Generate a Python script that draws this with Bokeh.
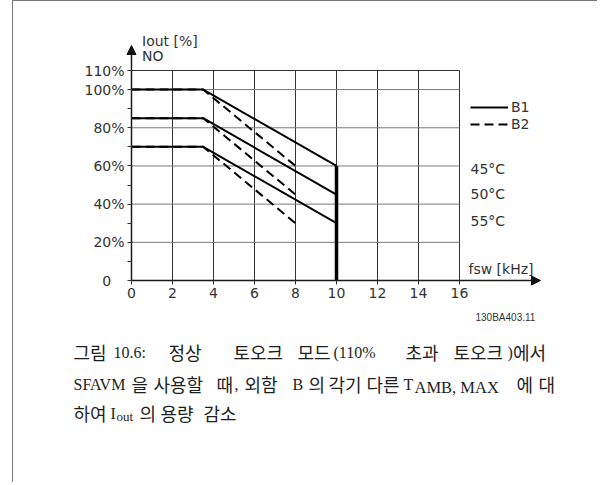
from bokeh.plotting import figure
from bokeh.models import (Range1d, FixedTicker, Label, Arrow, NormalHead,
                          Legend, LegendItem, LinearAxis, Grid)
from bokeh.embed import file_html
from bokeh.resources import INLINE

# ---------------- data ----------------
fsw_b1 = [0, 3.5, 10]          # kHz
b1_45 = [100, 100, 60]         # Iout %
b1_50 = [85, 85, 45]
b1_55 = [70, 70, 30]

fsw_b2 = [0, 3.5, 8]
b2_45 = [100, 100, 60]
b2_50 = [85, 85, 45]
b2_55 = [70, 70, 30]

series_names = ["B1", "B2"]
temp_labels = ["45°C", "50°C", "55°C"]

x_ticks = [0, 2, 4, 6, 8, 10, 12, 14, 16]
y_ticks = [0, 20, 40, 60, 80, 100, 110]
y_minor = [10, 30, 50, 70, 90]
y_tick_labels = ["0\u00a0\u00a0\u00a0", "20%", "40%", "60%", "80%", "100%", "110%"]
y_grid = [20, 40, 60, 80, 100]

x_title = "fsw [kHz]"
y_title = ["Iout [%]", "NO"]
doc_code = "130BA403.11"

# ---------------- layout (page pixels) ----------------
CANVAS_L, CANVAS_T = 13, 1           # canvas position on the page
W, H = 585, 482
FRAME_L, FRAME_B = 131.0, 280.0      # page px of data origin (0 kHz, 0 %)
X_PX = 20.5                          # px per kHz
Y_PX = 210.0 / 110.0                 # px per %

def dx(px):
    return (px - FRAME_L) / X_PX

def dy(py):
    return (FRAME_B - py) / Y_PX

SANS = "DejaVu Sans"
SERIF = "'Liberation Serif', serif"
KOR = "'Noto Sans CJK KR', 'Liberation Serif'"
TXT = "#333333"

p = figure(width=W, height=H, output_backend="svg", toolbar_location=None,
           x_axis_location=None, y_axis_location=None,
           x_range=Range1d(dx(CANVAS_L), dx(CANVAS_L + W)),
           y_range=Range1d(dy(CANVAS_T + H), dy(CANVAS_T)),
           min_border=0)
p.center = [r for r in p.center if not isinstance(r, Grid)]
p.styles = {"margin-left": "12px", "border-left": "1px solid #777",
            "border-top": "1px solid #777"}
p.background_fill_color = "white"
p.border_fill_color = "white"
p.outline_line_color = None

# grid (from tick arrays, limited to the chart box)
p.segment(x0=x_ticks, y0=[y_ticks[0]] * len(x_ticks), x1=x_ticks,
          y1=[y_ticks[-1]] * len(x_ticks), line_color="#333333", line_width=1)
p.segment(x0=[x_ticks[0]] * len(y_grid), y0=y_grid, x1=[x_ticks[-1]] * len(y_grid),
          y1=y_grid, line_color="#7a7a7a", line_width=1)
p.segment(x0=[x_ticks[0]], y0=[y_ticks[-1]], x1=[x_ticks[-1]], y1=[y_ticks[-1]],
          line_color="#333333", line_width=1)

# axes at the data origin
xax = LinearAxis(fixed_location=0, bounds=(x_ticks[0], x_ticks[-1]),
                 ticker=FixedTicker(ticks=x_ticks, minor_ticks=[]))
yax = LinearAxis(fixed_location=0, bounds=(y_ticks[0], y_ticks[-1]),
                 ticker=FixedTicker(ticks=y_ticks, minor_ticks=y_minor))
yax.major_label_overrides = {t: s for t, s in zip(y_ticks, y_tick_labels)}
for ax in (xax, yax):
    ax.axis_line_color = "#1a1a1a"
    ax.axis_line_width = 1.5
    ax.major_tick_in = 0
    ax.major_tick_out = 4
    ax.minor_tick_in = 0
    ax.minor_tick_out = 4
    ax.major_tick_line_color = "#333333"
    ax.minor_tick_line_color = "#333333"
    ax.major_label_text_font = SANS
    ax.major_label_text_font_size = "14px"
    ax.major_label_text_color = TXT
    ax.major_label_standoff = 3
p.add_layout(xax, "below")
p.add_layout(yax, "left")

# curves
r_b2 = p.multi_line(xs=[fsw_b2, fsw_b2, fsw_b2], ys=[b2_45, b2_50, b2_55],
                    line_color="black", line_width=2, line_dash="9 5")
r_b1 = p.multi_line(xs=[fsw_b1, fsw_b1, fsw_b1], ys=[b1_45, b1_50, b1_55],
                    line_color="black", line_width=2)
p.segment(x0=[fsw_b1[-1]], y0=[0], x1=[fsw_b1[-1]],
          y1=[max(b1_45[-1], b1_50[-1], b1_55[-1])],
          line_color="black", line_width=3.5)

# legend
LEG_TOP, LEG_H = 98.7, 33
leg = Legend(items=[LegendItem(label=series_names[0], renderers=[r_b1]),
                    LegendItem(label=series_names[1], renderers=[r_b2])],
             location=(470 - CANVAS_L, (CANVAS_T + H) - (LEG_TOP + LEG_H)),
             orientation="vertical", padding=0, margin=0, spacing=1,
             glyph_width=38, glyph_height=16, label_height=16, label_standoff=3,
             label_text_font=SANS, label_text_font_size="14px",
             label_text_color=TXT, border_line_alpha=0, background_fill_alpha=0)
p.add_layout(leg)

# axis arrows
p.add_layout(Arrow(x_start=0, y_start=y_ticks[-1], x_end=0, y_end=dy(45),
                   line_color="#1a1a1a", line_width=1.5,
                   end=NormalHead(size=9, fill_color="#111111", line_color="#111111")))
p.add_layout(Arrow(x_start=x_ticks[-1], y_start=0, x_end=dx(540), y_end=0,
                   line_color="#1a1a1a", line_width=1.5,
                   end=NormalHead(size=9, fill_color="#111111", line_color="#111111")))

def lab(text, px_, py_, size="14px", font=SANS, color=TXT, align="left"):
    p.add_layout(Label(x=dx(px_), y=dy(py_), text=text, text_font=font,
                       text_font_size=size, text_color=color,
                       text_align=align, text_baseline="middle"))

lab(y_title[0], 141.5, 40)
lab(y_title[1], 141.5, 55)
lab(x_title, 468, 268)
for t, yy in zip(temp_labels, [168.3, 193.3, 220]):
    lab(t, 470, yy)
lab(doc_code, 475, 317, size="10px", font="Liberation Sans", color="#333333")

# caption (pieces placed to reproduce the justified layout)
CAP = "#1e1e1e"
K, L = "k", "l"   # Korean / Latin piece
line1 = [("그림", 73, K), ("10.6:", 113, L), ("정상", 168, K), ("토오크", 233, K),
         ("모드", 297, K), ("(110%", 333, L), ("초과", 405, K),
         ("토오크", 453, K), (")", 507, L), ("에서", 512.5, K)]
line2 = [("SFAVM", 73, L), ("을", 131, K), ("사용할", 153, K), ("때", 216, K),
         (",", 234, L), ("외함", 244, K), ("B", 292, L), ("의", 308, K),
         ("각기", 328, K), ("다른", 366, K), ("T", 403, L), ("에", 516, K),
         ("대", 538, K)]
line3 = [("하여", 73, K), ("I", 110, L), ("의", 139, K), ("용량", 160, K),
         ("감소", 203, K)]
for words, yy in ((line1, 351.7), (line2, 383.0), (line3, 412.5)):
    for w, xx, kind in words:
        if kind == K:
            lab(w, xx, yy, size="18px", font=KOR, color=CAP)
        else:
            lab(w, xx, yy + 0.5, size="16px", font=SERIF, color=CAP)
lab("AMB, MAX", 414.0, 386.5, size="16.5px", font=SERIF, color=CAP)
lab("out", 116.0, 416.0, size="13px", font=SERIF, color=CAP)

open("out.html", "w").write(file_html(p, INLINE))
